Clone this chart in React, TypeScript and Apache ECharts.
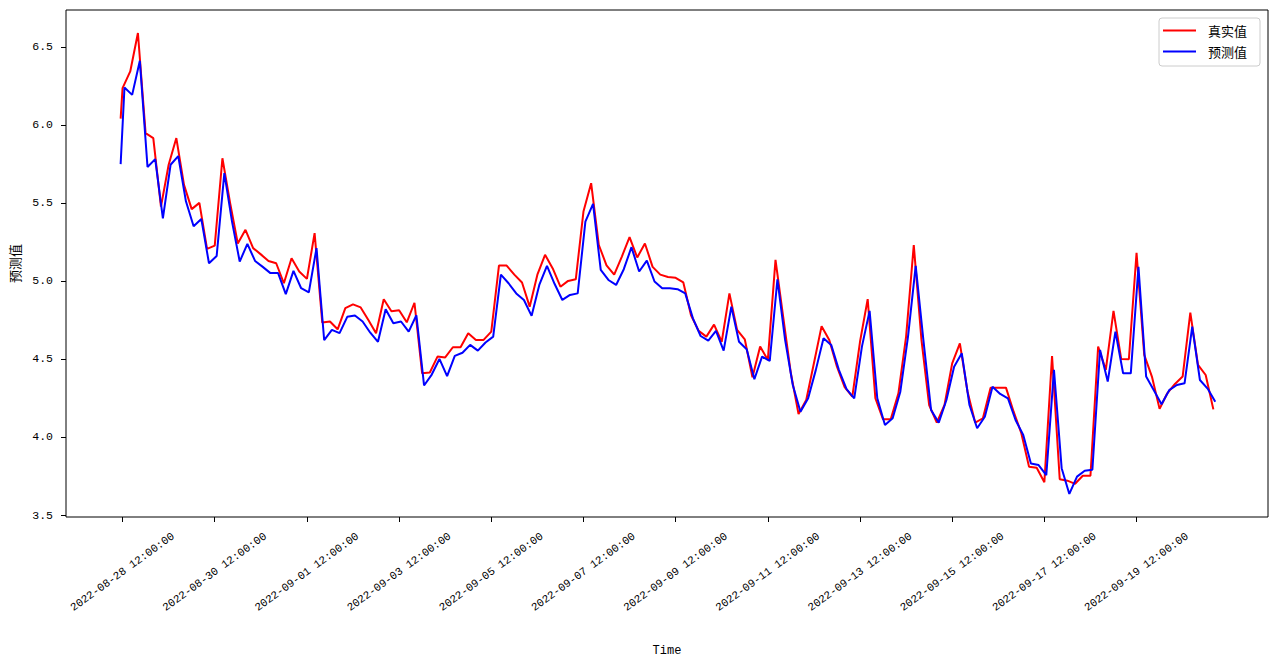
import { useEffect, useRef } from "react";
import * as echarts from "echarts";

const HOUR = 3600000;
const firstTime = Date.UTC(2022, 7, 28, 11);
const gridStart = Date.UTC(2022, 7, 28, 12);
const stepHours = 4;
const predLagHours = 1;

const actualStart = 6.04;
const actualValues = [
  6.235, 6.342, 6.588, 5.947, 5.915, 5.476, 5.744, 5.915, 5.615, 5.46,
  5.5, 5.205, 5.226, 5.786, 5.5, 5.24, 5.327, 5.21, 5.17, 5.128,
  5.113, 4.985, 5.145, 5.06, 5.013, 5.306, 4.733, 4.74, 4.69, 4.825,
  4.85, 4.83, 4.75, 4.665, 4.883, 4.806, 4.812, 4.735, 4.86, 4.408,
  4.413, 4.515, 4.51, 4.575, 4.575, 4.665, 4.622, 4.622, 4.675, 5.098,
  5.098, 5.04, 4.99, 4.835, 5.04, 5.167, 5.08, 4.963, 5.0, 5.01,
  5.444, 5.626, 5.23, 5.1, 5.04, 5.156, 5.28, 5.15, 5.24, 5.09,
  5.04, 5.025, 5.02, 4.99, 4.78, 4.68, 4.643, 4.72, 4.61, 4.92,
  4.686, 4.626, 4.383, 4.58, 4.494, 5.135, 4.77, 4.408, 4.147, 4.237,
  4.472, 4.71, 4.622, 4.45, 4.32, 4.258, 4.61, 4.883, 4.248, 4.113,
  4.113, 4.28, 4.643, 5.23, 4.622, 4.205, 4.092, 4.205, 4.472, 4.6,
  4.29, 4.092, 4.12, 4.316, 4.316, 4.316, 4.162, 4.024, 3.81, 3.803,
  3.71, 4.519, 3.729, 3.72, 3.7, 3.752, 3.752, 4.579, 4.43, 4.808,
  4.5, 4.498, 5.18, 4.526, 4.387, 4.18, 4.28, 4.34, 4.387, 4.797,
  4.462, 4.397, 4.177,
];

const predictedStart = 5.748;
const predictedValues = [
  6.239, 6.192, 6.41, 5.73, 5.78, 5.4, 5.744, 5.8, 5.51, 5.35,
  5.397, 5.113, 5.16, 5.69, 5.38, 5.124, 5.237, 5.128, 5.09, 5.05,
  5.05, 4.915, 5.064, 4.953, 4.927, 5.21, 4.62, 4.686, 4.665, 4.77,
  4.778, 4.74, 4.668, 4.61, 4.818, 4.729, 4.74, 4.675, 4.78, 4.33,
  4.4, 4.5, 4.39, 4.52, 4.54, 4.59, 4.553, 4.605, 4.643, 5.04,
  4.985, 4.92, 4.878, 4.776, 4.974, 5.096, 4.98, 4.878, 4.91, 4.92,
  5.38, 5.494, 5.07, 5.006, 4.974, 5.075, 5.216, 5.06, 5.13, 4.996,
  4.953, 4.953, 4.947, 4.92, 4.76, 4.647, 4.617, 4.68, 4.553, 4.835,
  4.61, 4.562, 4.37, 4.515, 4.487, 5.01, 4.622, 4.333, 4.162, 4.248,
  4.43, 4.633, 4.59, 4.43, 4.306, 4.248, 4.579, 4.808, 4.248, 4.077,
  4.12, 4.29, 4.643, 5.096, 4.622, 4.173, 4.092, 4.237, 4.45, 4.536,
  4.205, 4.056, 4.13, 4.322, 4.276, 4.248, 4.109, 4.013, 3.83, 3.82,
  3.756, 4.43, 3.8, 3.635, 3.746, 3.784, 3.79, 4.558, 4.355, 4.675,
  4.408, 4.408, 5.09, 4.387, 4.3, 4.21, 4.3, 4.333, 4.344, 4.707,
  4.365, 4.31, 4.226,
];

const xTickLabels = [
  "2022-08-28 12:00:00", "2022-08-30 12:00:00", "2022-09-01 12:00:00",
  "2022-09-03 12:00:00", "2022-09-05 12:00:00", "2022-09-07 12:00:00",
  "2022-09-09 12:00:00", "2022-09-11 12:00:00", "2022-09-13 12:00:00",
  "2022-09-15 12:00:00", "2022-09-17 12:00:00", "2022-09-19 12:00:00",
];
const yTickValues = [3.5, 4.0, 4.5, 5.0, 5.5, 6.0, 6.5];

const seriesNames = ["真实值", "预测值"];
const xName = "Time";
const yName = "预测值";

const MONO = "'Liberation Mono', 'DejaVu Sans Mono', 'Noto Sans CJK SC', monospace";
const CJK = "'Noto Sans CJK SC', 'Liberation Mono', sans-serif";

export default function App() {
  const ref = useRef<HTMLDivElement>(null);
  useEffect(() => {
    document.body.style.margin = "0";
    if (!ref.current) return;
    const chart = echarts.init(ref.current, undefined, { renderer: "svg" });

    const actualData: [number, number][] = [[firstTime, actualStart]].concat(
      actualValues.map((v, k) => [gridStart + k * stepHours * HOUR, v])
    ) as [number, number][];
    const predictedData: [number, number][] = [[firstTime, predictedStart]].concat(
      predictedValues.map((v, k) => [gridStart + (k * stepHours + predLagHours) * HOUR, v])
    ) as [number, number][];

    const tMin = firstTime;
    const tMax = gridStart + (actualValues.length - 1) * stepHours * HOUR;
    const tSpan = tMax - tMin;
    const allV = actualValues.concat(predictedValues, [actualStart, predictedStart]);
    const vMin = Math.min(...allV);
    const vMax = Math.max(...allV);
    const vSpan = vMax - vMin;

    const xTickValues = xTickLabels.map((s) => Date.parse(s.replace(" ", "T") + "Z"));

    chart.setOption({
      animation: false,
      backgroundColor: "#ffffff",
      grid: {
        left: 66,
        right: 10,
        top: 10,
        bottom: 151,
        show: true,
        borderColor: "#000000",
        borderWidth: 1,
        backgroundColor: "transparent",
      },
      legend: {
        orient: "vertical",
        right: 18,
        top: 18,
        itemWidth: 33,
        itemHeight: 2,
        itemGap: 8,
        padding: [6, 13, 8, 4],
        borderColor: "#cccccc",
        borderWidth: 1,
        borderRadius: 3,
        backgroundColor: "rgba(255,255,255,0.8)",
        textStyle: { fontFamily: CJK, fontSize: 13, color: "#000", padding: [0, 0, 0, 7] },
        data: [
          { name: seriesNames[0], icon: "rect" },
          { name: seriesNames[1], icon: "rect" },
        ],
      },
      xAxis: {
        type: "value",
        min: tMin - 0.05 * tSpan,
        max: tMax + 0.05 * tSpan,
        name: xName,
        nameLocation: "middle",
        nameGap: 128,
        nameTextStyle: { fontFamily: MONO, fontSize: 12, color: "#000" },
        axisLine: { show: false },
        splitLine: { show: false },
        axisTick: {
          show: true,
          length: 5,
          customValues: xTickValues,
          lineStyle: { color: "#000", width: 1 },
        },
        axisLabel: {
          customValues: xTickValues,
          rotate: 36,
          align: "center",
          verticalAlign: "middle",
          margin: 55,
          fontFamily: MONO,
          fontSize: 11,
          color: "#000",
          formatter: (val: number) => {
            const i = xTickValues.indexOf(val);
            return i >= 0 ? xTickLabels[i] : "";
          },
        },
      },
      yAxis: {
        type: "value",
        min: vMin - 0.05 * vSpan,
        max: vMax + 0.05 * vSpan,
        name: yName,
        nameLocation: "middle",
        nameGap: 40,
        nameRotate: 90,
        nameTextStyle: { fontFamily: CJK, fontSize: 13, color: "#000" },
        axisLine: { show: false },
        splitLine: { show: false },
        axisTick: {
          show: true,
          length: 5,
          customValues: yTickValues,
          lineStyle: { color: "#000", width: 1 },
        },
        axisLabel: {
          customValues: yTickValues,
          margin: 13,
          fontFamily: MONO,
          fontSize: 11.5,
          color: "#000",
          formatter: (val: number) => val.toFixed(1),
        },
      },
      series: [
        {
          name: seriesNames[0],
          type: "line",
          data: actualData,
          showSymbol: false,
          color: "#ff0000",
          lineStyle: { color: "#ff0000", width: 2 },
        },
        {
          name: seriesNames[1],
          type: "line",
          data: predictedData,
          showSymbol: false,
          color: "#0000ff",
          lineStyle: { color: "#0000ff", width: 2 },
        },
      ],
    });
    return () => chart.dispose();
  }, []);
  return (
    <div
      ref={ref}
      style={{ position: "fixed", left: 0, top: 0, width: 1278, height: 668, background: "#fff" }}
    />
  );
}
